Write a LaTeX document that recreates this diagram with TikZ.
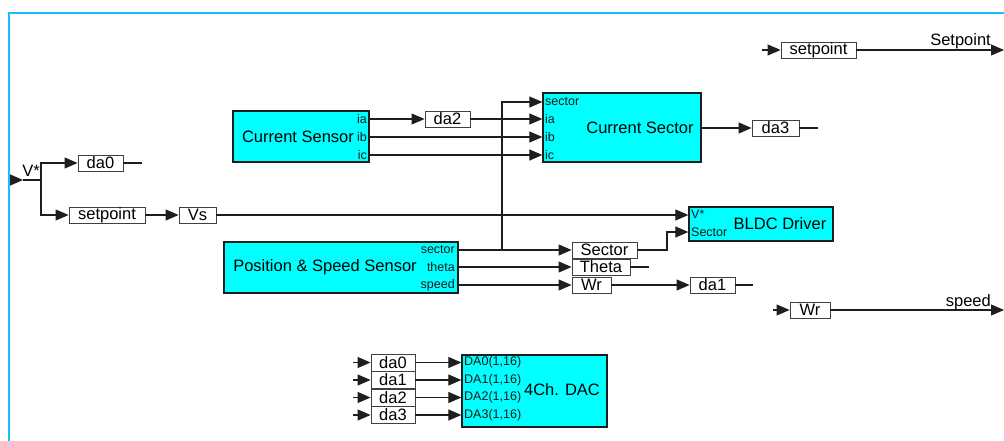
\documentclass[tikz,border=0pt]{standalone}
\usepackage{fontspec}
\setmainfont{Liberation Sans}
\usetikzlibrary{arrows.meta}
\definecolor{borderblue}{RGB}{20,190,255}
\definecolor{blkfill}{RGB}{0,255,255}
\definecolor{linec}{RGB}{30,30,30}
\newcommand\bigf{\fontsize{16.5}{18}\selectfont}
\newcommand\smallf{\fontsize{12.5}{13}\selectfont}
\tikzset{
  conn/.style={draw=linec, line width=1.1pt},
  arr/.style={conn, -{Triangle[length=13pt,width=11pt]}},
  blk/.style={draw=linec, fill=blkfill, line width=1.3pt, inner sep=0pt},
  lbl/.style={draw=black!75, fill=white, line width=0.9pt, inner sep=0pt, minimum height=16pt, font=\bigf},
  port/.style={inner sep=0pt, font=\smallf, text=black!90},
  title/.style={inner sep=0pt, font=\bigf},
}
\begin{document}
\begin{tikzpicture}[x=1pt,y=-1pt]
\useasboundingbox (0,0) rectangle (1004,441);
\fill[white] (0,0) rectangle (1004,441);
\draw[borderblue, line width=2pt] (9,441) -- (9,13) -- (1004,13);

% blocks
\node[blk, minimum width=136pt, minimum height=51pt] (csen) at (301,136.5) {};
\node[blk, minimum width=158pt, minimum height=69pt] (csec) at (622,127.5) {};
\node[blk, minimum width=234pt, minimum height=51pt] (pos) at (341,267.5) {};
\node[blk, minimum width=144pt, minimum height=34pt] (bldc) at (761,224) {};
\node[blk, minimum width=145pt, minimum height=72pt] (dac) at (534.5,391) {};

% titles
\node[title] (tcsen) at (298,137) {Current Sensor};
\node[title] (tcsec) at (640,128) {Current Sector};
\node[title] (tpos) at (325,267) {Position \& Speed Sensor};
\node[title] (tbldc) at (780,224) {BLDC Driver};
\node[title] (tdac) at (562,390) {4Ch. DAC};

% ports
\node[port, anchor=east] (csia) at (367,119) {ia};
\node[port, anchor=east] (csib) at (367,137) {ib};
\node[port, anchor=east] (csic) at (367,155) {ic};
\node[port, anchor=west] (cssec) at (545,102) {sector};
\node[port, anchor=west] (cxia) at (545,119) {ia};
\node[port, anchor=west] (cxib) at (545,137) {ib};
\node[port, anchor=west] (cxic) at (545,155) {ic};
\node[port, anchor=east] (psec) at (455,250) {sector};
\node[port, anchor=east] (pth) at (455,267) {theta};
\node[port, anchor=east] (psp) at (455,285) {speed};
\node[port, anchor=west] (bv) at (691,214) {V*};
\node[port, anchor=west] (bs) at (691,232) {Sector};
\node[port, anchor=west] (d0) at (464,362.5) {DA0(1,16)};
\node[port, anchor=west] (d1) at (464,380) {DA1(1,16)};
\node[port, anchor=west] (d2) at (464,397.5) {DA2(1,16)};
\node[port, anchor=west] (d3) at (464,415) {DA3(1,16)};

% label boxes
\node[lbl, minimum width=45pt] (da0) at (100.5,163) {da0};
\node[lbl, minimum width=76pt] (sp1) at (107,215) {setpoint};
\node[lbl, minimum width=37pt] (vs) at (197.5,215) {Vs};
\node[lbl, minimum width=45pt] (da2) at (447.5,119) {da2};
\node[lbl, minimum width=47pt] (da3) at (775.5,128) {da3};
\node[lbl, minimum width=65pt] (sbox) at (604.5,250) {Sector};
\node[lbl, minimum width=58pt] (tbox) at (601,267) {Theta};
\node[lbl, minimum width=39pt] (wbox) at (591.5,285) {Wr};
\node[lbl, minimum width=45pt] (da1) at (712.5,285) {da1};
\node[lbl, minimum width=75pt] (sp2) at (818.5,50) {setpoint};
\node[lbl, minimum width=40pt] (wr2) at (810,310) {Wr};
\node[lbl, minimum width=44pt, minimum height=17pt] (ia0) at (393,362.5) {da0};
\node[lbl, minimum width=44pt, minimum height=17pt] (ia1) at (393,380) {da1};
\node[lbl, minimum width=44pt, minimum height=17pt] (ia2) at (393,397.5) {da2};
\node[lbl, minimum width=44pt, minimum height=17pt] (ia3) at (393,415) {da3};

% V* input
\coordinate (vin) at (10,180);
\coordinate (vtip) at (23,180);
\coordinate (vj) at (41,180);
\node[title] (vlab) at (31,171) {V*};
\draw[arr] (vin) -- (vtip);
\draw[conn] (vtip) -- (vj);
\draw[arr] (vj) |- (da0.west);
\draw[arr] (vj) |- (sp1.west);
\coordinate (da0end) at (142,163);
\draw[conn] (da0.east) -- (da0end);
\draw[arr] (sp1.east) -- (vs.west);
\draw[arr] (vs.east) -- (bldc.west |- 0,215);

% current sensor to sector
\draw[arr] (csen.east |- csia) -- (da2.west);
\draw[arr] (da2.east) -- (csec.west |- cxia);
\draw[arr] (csen.east |- csib) -- (csec.west |- cxib);
\draw[arr] (csen.east |- csic) -- (csec.west |- cxic);
\draw[arr] (csec.east |- 0,128) -- (da3.west);
\coordinate (da3end) at (818,128);
\draw[conn] (da3.east) -- (da3end);

% position sensor
\coordinate (jn) at (502,250);
\draw[arr] (pos.east |- psec) -- (sbox.west);
\draw[arr] (jn) |- (csec.west |- cssec);
\draw[arr] (pos.east |- pth) -- (tbox.west);
\draw[arr] (pos.east |- psp) -- (wbox.west);
\coordinate (sbend) at (667,250);
\draw[arr] (sbox.east) -- (sbend) |- (bldc.west |- bs);
\coordinate (thend) at (649,267);
\draw[conn] (tbox.east) -- (thend);
\draw[arr] (wbox.east) -- (da1.west);
\coordinate (da1end) at (753,285);
\draw[conn] (da1.east) -- (da1end);

% right side outputs
\coordinate (sp2in) at (762,50);
\coordinate (sp2out) at (1004,50);
\draw[arr] (sp2in) -- (sp2.west);
\draw[arr] (sp2.east) -- (sp2out);
\node[title, anchor=base east] (splab) at (991,46) {Setpoint};
\coordinate (wr2in) at (773,310);
\coordinate (wr2out) at (1004,310);
\draw[arr] (wr2in) -- (wr2.west);
\draw[arr] (wr2.east) -- (wr2out);
\node[title, anchor=base east] (speedlab) at (991,306) {speed};

% DAC inputs
\foreach \i/\y in {0/362.5,1/380,2/397.5,3/415}{
  \coordinate (din\i) at (353,\y);
  \draw[arr] (din\i) -- (ia\i.west);
  \draw[arr] (ia\i.east) -- (dac.west |- d\i);
}
\end{tikzpicture}
\end{document}
